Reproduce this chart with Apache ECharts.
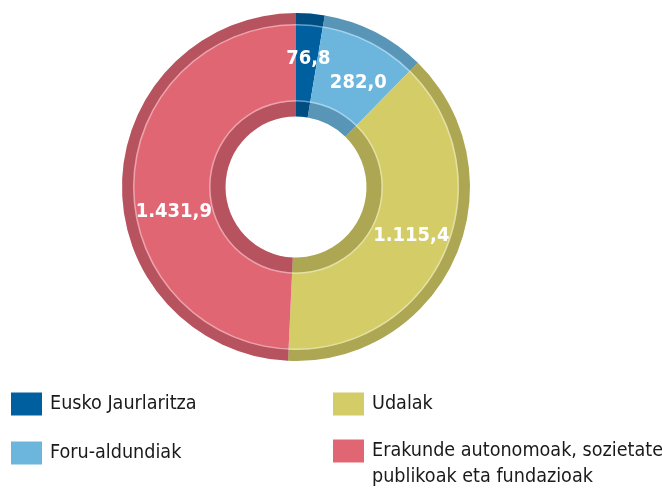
<!DOCTYPE html>
<html lang="eu">
<head>
<meta charset="UTF-8">
<title>Donut</title>
<script src="https://cdn.jsdelivr.net/npm/echarts@6/dist/echarts.min.js"></script>
<style>
  html, body { margin: 0; padding: 0; background: #fff; }
  #chart { width: 662px; height: 491px; }
</style>
</head>
<body>
<div id="chart"></div>
<script>
    // datuak
    var categories = ['Eusko Jaurlaritza', 'Foru-aldundiak', 'Udalak',
        'Erakunde autonomoak, sozietate publikoak eta fundazioak'];
    var values = [76.8, 282.0, 1115.4, 1431.9];
    // blank first line keeps the first text line level with the swatch
    var legendText = ['Eusko Jaurlaritza', 'Foru-aldundiak', 'Udalak',
        '\nErakunde autonomoak, sozietate\npublikoak eta fundazioak'];

    var colors = ['#005f9e', '#6cb6de', '#d3cc67', '#e06674'];
    var font = '"DejaVu Sans Condensed", "Liberation Sans Narrow", sans-serif';
    // label nudges (dx, dy)
    var labelShift = [[2, -3.5], [5.5, 7.5], [0.5, -1], [3, 28]];

    function fmt(v) {
        var parts = v.toFixed(1).split('.');
        return parts[0].replace(/\B(?=(\d{3})+(?!\d))/g, '.') + ',' + parts[1];
    }

    var cx = 296, cy = 187;
    var mainData = categories.map(function (c, i) {
        return { name: c, value: values[i], itemStyle: { color: colors[i] } };
    });
    var shadeData = categories.map(function (c, i) {
        return { name: c, value: values[i] };
    });

    function ring(r0, r1, data, color, z) {
        return {
            type: 'pie', silent: true, z: z,
            center: [cx, cy], radius: [r0, r1],
            startAngle: 90, clockwise: true, animation: false,
            data: data,
            label: { show: false }, labelLine: { show: false },
            emphasis: { disabled: true },
            itemStyle: { color: color, borderWidth: 0 }
        };
    }

    function legendAt(i, left, top) {
        return {
            left: left, top: top, orient: 'vertical', padding: 0,
            data: [categories[i]],
            icon: 'rect', itemWidth: 31, itemHeight: 23, itemGap: 0,
            formatter: function () { return legendText[i]; },
            textStyle: {
                fontFamily: font, fontSize: 19.6, color: '#1a1a1a', lineHeight: 26,
                padding: [0, 0, 0, 3]
            }
        };
    }

    var chart = echarts.init(document.getElementById('chart'), null, { renderer: 'canvas' });
    chart.setOption({
        animation: false,
        legend: [
            legendAt(0, 11, 391),
            legendAt(1, 11, 440),
            legendAt(2, 333, 391),
            legendAt(3, 333, 412)
        ],
        series: [
            {
                type: 'pie', z: 2,
                center: [cx, cy], radius: [70.5, 174],
                startAngle: 90, clockwise: true,
                data: mainData,
                itemStyle: { borderWidth: 0 },
                emphasis: { scale: false },
                label: {
                    show: true, position: 'inside',
                    formatter: function (p) { return fmt(p.value); },
                    color: '#fff', fontFamily: font, fontWeight: 'bold', fontSize: 20
                },
                labelLayout: function (p) {
                    var s = labelShift[p.dataIndex];
                    return { dx: s[0], dy: s[1] };
                },
                labelLine: { show: false }
            },
            ring(163, 174, shadeData, 'rgba(0,0,0,0.18)', 3),
            ring(70.5, 85.5, shadeData, 'rgba(0,0,0,0.18)', 3),
            ring(161.5, 163, [{ name: 'lerroa1', value: 1 }], 'rgba(255,255,255,0.4)', 4),
            ring(85.5, 87, [{ name: 'lerroa2', value: 1 }], 'rgba(255,255,255,0.4)', 4)
        ]
    });
</script>
</body>
</html>
